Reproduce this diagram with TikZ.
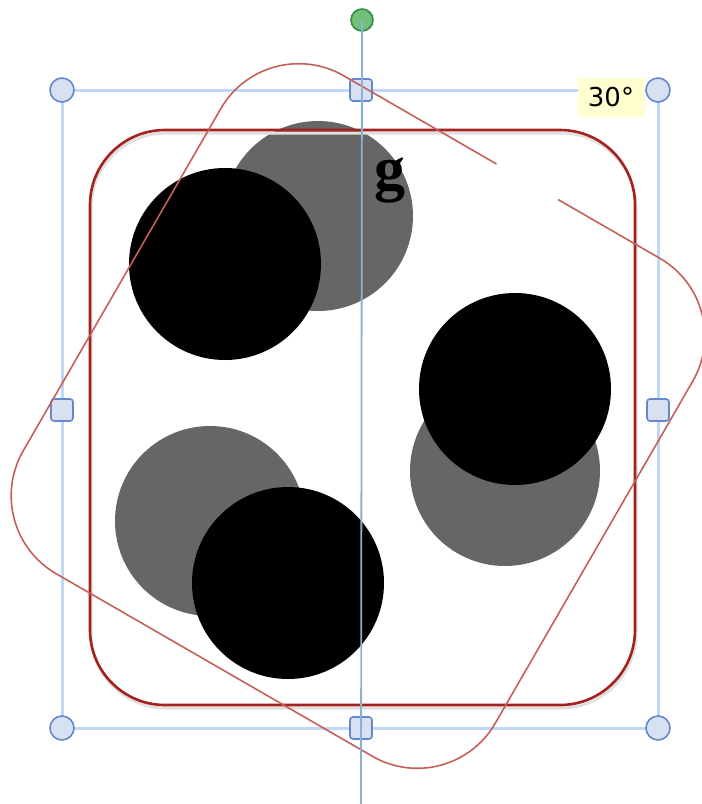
\documentclass[tikz,border=0pt]{standalone}
\usepackage{fontspec}
\newfontfamily\tipfont{DejaVu Sans}
\newfontfamily\gfont{Liberation Serif}
\definecolor{mainred}{RGB}{163,34,30}
\definecolor{rotred}{RGB}{196,96,90}
\definecolor{selblue}{RGB}{192,215,245}
\definecolor{vblue}{RGB}{135,178,212}
\definecolor{hfill}{RGB}{216,225,242}
\definecolor{hbord}{RGB}{100,135,205}
\definecolor{gfill}{RGB}{112,192,122}
\definecolor{gbord}{RGB}{52,140,72}
\definecolor{dotgray}{RGB}{102,102,102}
\definecolor{tipfill}{RGB}{255,255,208}
\tikzset{
  dotblack/.style={circle, fill=black, minimum size=192pt, inner sep=0pt},
  dotgrey/.style={circle, fill=dotgray, minimum size=190pt, inner sep=0pt},
  mainrect/.style={draw=mainred, line width=2.6pt, rounded corners=75pt},
  rectshadow/.style={draw=black!12, line width=3pt, rounded corners=75pt},
  rotrect/.style={draw=rotred, line width=1.6pt, rounded corners=90pt},
  selline/.style={draw=selblue, line width=3pt},
  vline/.style={draw=vblue, line width=1.8pt},
  cornerhandle/.style={circle, draw=hbord, fill=hfill, line width=1.6pt, minimum size=24pt, inner sep=0pt},
  edgehandle/.style={rectangle, rounded corners=3pt, draw=hbord, fill=hfill, line width=1.6pt, minimum size=22pt, inner sep=0pt},
  rothandle/.style={circle, draw=gbord, fill=gfill, line width=1.6pt, minimum size=22pt, inner sep=0pt},
  tooltip/.style={rectangle, fill=tipfill, minimum width=67pt, minimum height=39pt, inner sep=0pt, font=\tipfont\fontsize{26}{26}\selectfont, text=black},
}
\begin{document}
\begin{tikzpicture}[x=1pt,y=-1pt]
\useasboundingbox (0,0) rectangle (702,804);
% selection rectangle
\coordinate (tl) at (62,90);
\coordinate (tr) at (658,90);
\coordinate (br) at (658,728);
\coordinate (bl) at (62,728);
\draw[selline] (tl) -- (tr) -- (br) -- (bl) -- cycle;
% grey dots
\node[dotgrey] (g1) at (318,216) {};
\node[dotgrey] (g2) at (505,471) {};
\node[dotgrey] (g3) at (210,521) {};
% black dots
\node[dotblack] (b1) at (225,264) {};
\node[dotblack] (b2) at (515,389) {};
\node[dotblack] (b3) at (288,583) {};
% main rounded rectangle with faint shadow
\draw[rectshadow] (91,133) rectangle (636,708);
\draw[mainrect] (90,130) rectangle (635,705);
% handles
\node[cornerhandle] (h1) at (tl) {};
\node[cornerhandle] (h2) at (tr) {};
\node[cornerhandle] (h3) at (br) {};
\node[cornerhandle] (h4) at (bl) {};
\node[edgehandle] (e1) at (361,90) {};
\node[edgehandle] (e2) at (62,410) {};
\node[edgehandle] (e3) at (658,410) {};
\node[edgehandle] (e4) at (361,728) {};
\node[rothandle] (rot) at (362,20) {};
% rotated preview outline
\begin{scope}[rotate around={-30:(358,416)}]
  \draw[rotrect] (85.5,128.5) rectangle (630.5,703.5);
  \draw[white, line width=5pt] (352,128.5) -- (423,128.5);
\end{scope}
% vertical axis line
\coordinate (vbot) at (361,804);
\draw[vline] (rot.center) -- (vbot);
% label g
\node[font=\gfont\bfseries\fontsize{62}{62}\selectfont, inner sep=0pt] (glabel) at (390,180) {g};
% tooltip
\node[tooltip] (tip) at (611,97) {30°};
\end{tikzpicture}
\end{document}
